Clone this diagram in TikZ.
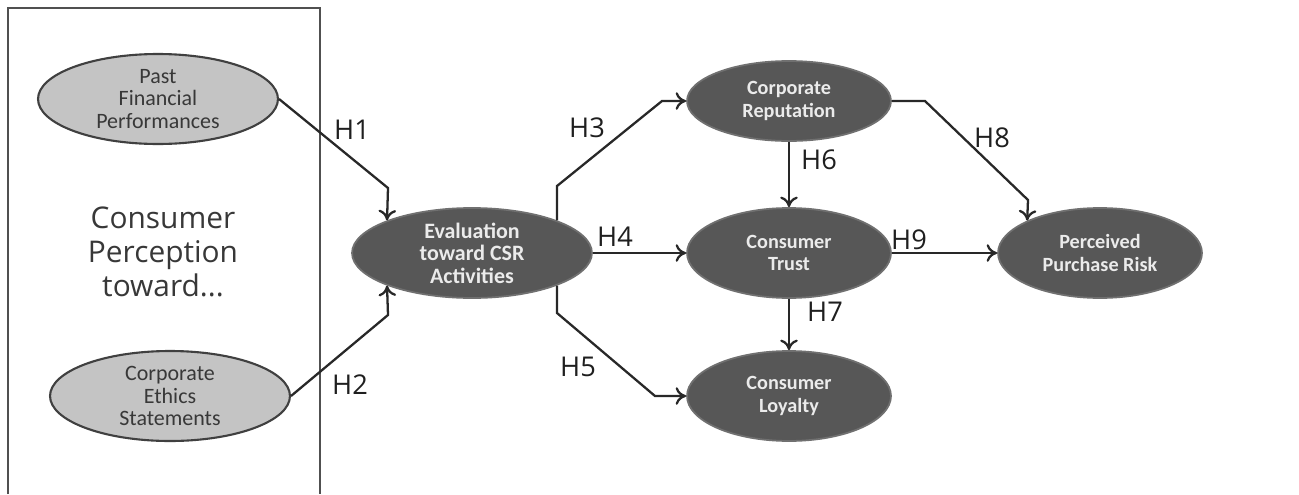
\documentclass[tikz,border=0pt]{standalone}
\usepackage{fontspec}
\setmainfont{Carlito}
\newfontfamily\labelFont{Open Sans}
\usepackage{tikz}
\usetikzlibrary{positioning,shapes.geometric,arrows.meta}
\tikzstyle{modelPic} = [x = 0.02cm, y = -0.02cm]
\definecolor{constructDark}{RGB}{87,87,87}
\definecolor{constructLight}{RGB}{196,196,196}
\definecolor{lineColor}{RGB}{40,40,40}
\definecolor{frameColor}{RGB}{80,80,80}
\tikzstyle{darkConstruct} = [ellipse, draw=constructDark!85!white, fill=constructDark, line width=1pt, inner sep=0pt, minimum width=4.08cm, minimum height=1.8cm, align=center, text=white!92!black, font=\bfseries\fontsize{11.5}{12.8}\selectfont]
\tikzstyle{lightConstruct} = [ellipse, draw=black!75, fill=constructLight, line width=1.2pt, inner sep=0pt, minimum width=4.8cm, minimum height=1.8cm, align=center, text=black!78, font=\fontsize{12.5}{13}\selectfont]
\tikzstyle{hypArrow} = [-{To[length=6pt, width=10pt]}, color=lineColor, line width=1.3pt]
\tikzstyle{hypLabel} = [text=black!88, font=\labelFont\fontsize{15.5}{17}\selectfont]
\tikzstyle{frameLine} = [color=frameColor, line width=1.6pt]

\begin{document}
\begin{tikzpicture}[modelPic]
  \useasboundingbox (0,0) rectangle (1299,494);
  \draw [frameLine] (8,494) -- (8,8) -- (320,8) -- (320,494);
  \node [align=center, text=black!78, font=\labelFont\fontsize{17}{19.5}\selectfont] (perception) at (163,252) {Consumer\\Perception\\toward...};

  % antecedents
  \node [lightConstruct] (past) at (158,99) {Past\\Financial\\Performances};
  \node [lightConstruct] (ethics) at (170,396) {Corporate\\Ethics\\Statements};

  % model
  \node [darkConstruct, minimum width=4.8cm, font=\bfseries\fontsize{12.5}{12.8}\selectfont] (eval) at (472,253) {Evaluation\\toward CSR\\Activities};
  \node [darkConstruct, minimum height=1.6cm] (rep) at (789,101) {Corporate\\Reputation};
  \node [darkConstruct] (trust) at (789,253) {Consumer\\Trust};
  \node [darkConstruct] (loyal) at (789,396) {Consumer\\Loyalty};
  \node [darkConstruct] (risk) at (1100,253) {Perceived\\Purchase Risk};

  \draw [hypArrow] (past.east) -- (388,188) -- (eval.159);
  \draw [hypArrow] (ethics.east) -- (388,315) -- (eval.201);
  \draw [hypArrow] (eval.21) -- (557,186) -- (662,101) -- (rep.west);
  \draw [hypArrow] (eval.east) -- (trust.west);
  \draw [hypArrow] (eval.-21) -- (557,313) -- (655,396) -- (loyal.west);
  \draw [hypArrow] (rep.south) -- (trust.north);
  \draw [hypArrow] (trust.south) -- (loyal.north);
  \draw [hypArrow] (rep.east) -- (925,101) -- (1028,200) -- (risk.156);
  \draw [hypArrow] (trust.east) -- (risk.west);

  \node [hypLabel] (h1) at (352,130) {H1};
  \node [hypLabel] (h2) at (350,385) {H2};
  \node [hypLabel] (h3) at (587,128) {H3};
  \node [hypLabel] (h4) at (615,237) {H4};
  \node [hypLabel] (h5) at (578,367) {H5};
  \node [hypLabel] (h6) at (819,160) {H6};
  \node [hypLabel] (h7) at (825,312) {H7};
  \node [hypLabel] (h8) at (992,138) {H8};
  \node [hypLabel] (h9) at (909,240) {H9};
\end{tikzpicture}
\end{document}
